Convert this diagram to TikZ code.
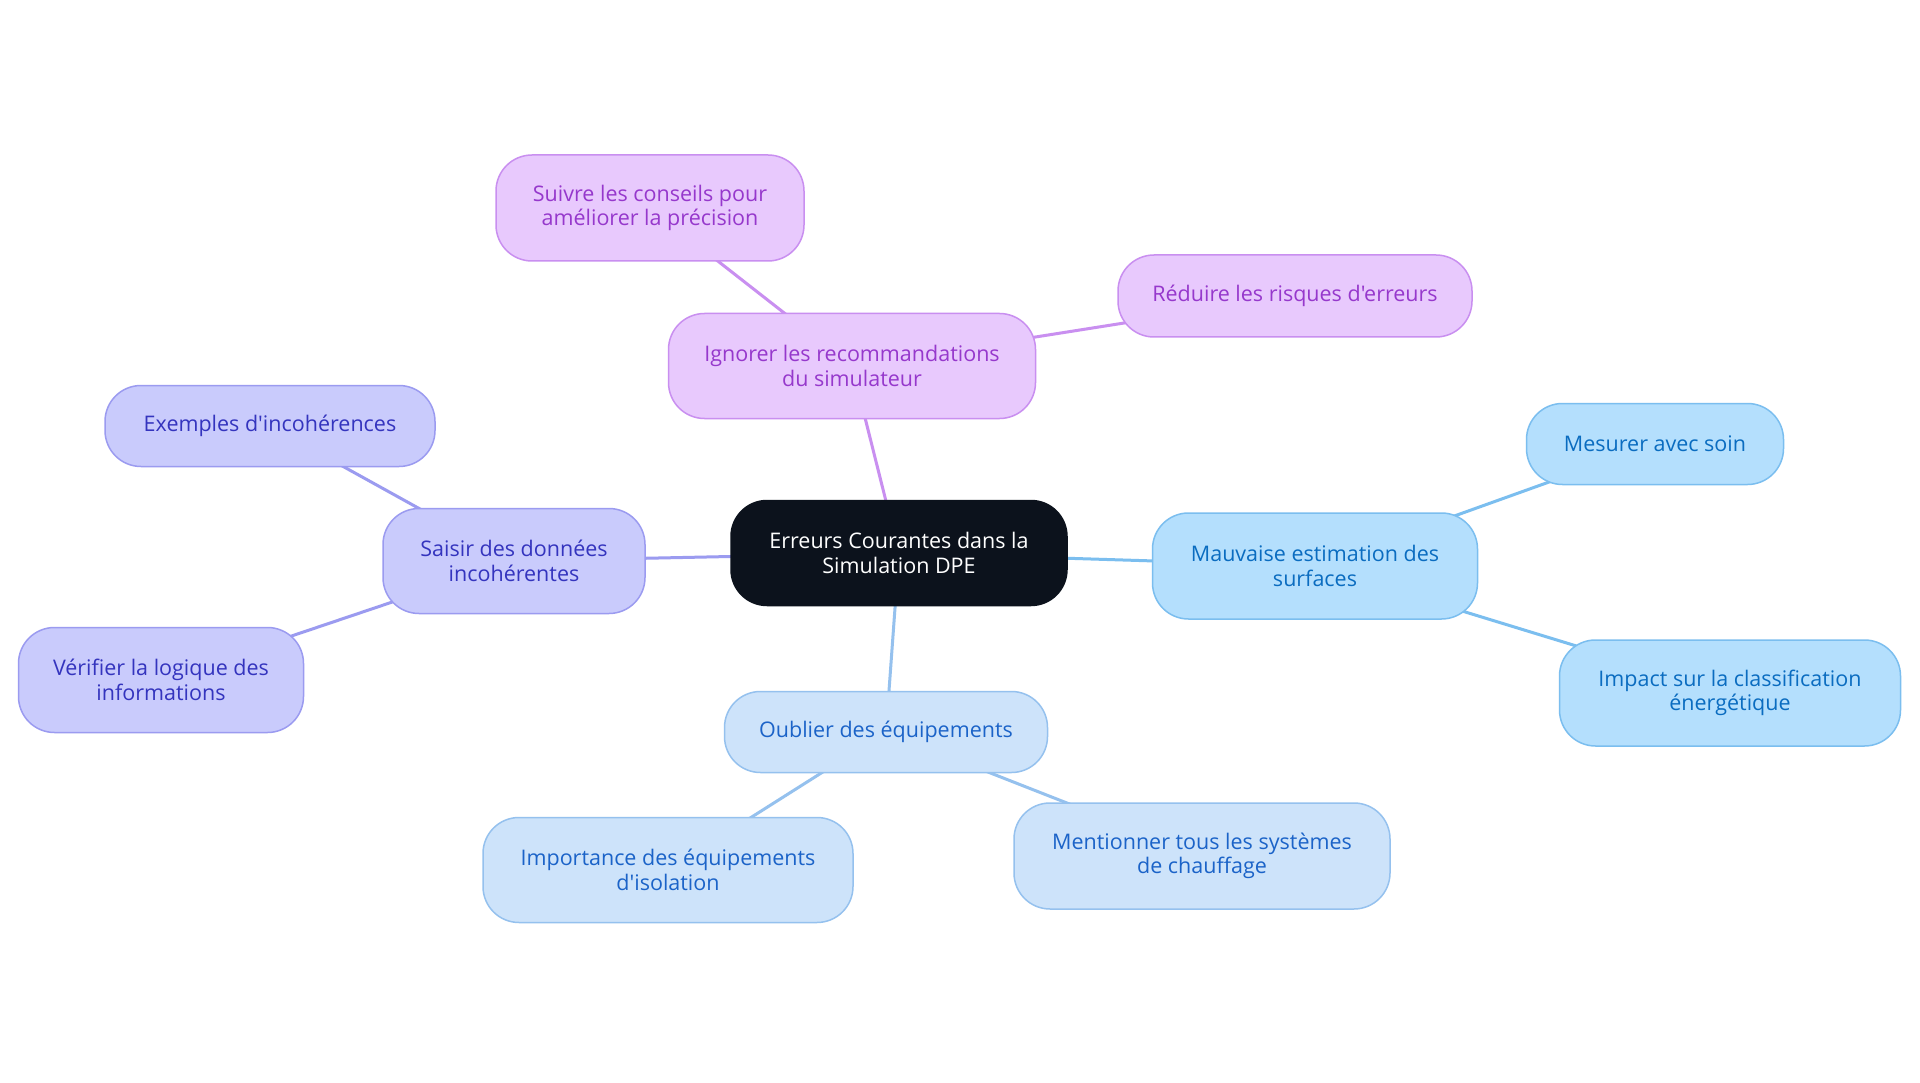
\documentclass[tikz,border=0pt]{standalone}
\usepackage{fontspec}
\setmainfont{Open Sans}[Ligatures=TeXOff]
\usetikzlibrary{backgrounds}
\definecolor{cfill}{HTML}{0C121C}
\definecolor{pfill}{HTML}{E8C9FD}
\definecolor{pdraw}{HTML}{C98FF0}
\definecolor{ptext}{HTML}{9638CC}
\definecolor{bfill}{HTML}{B4DFFD}
\definecolor{bdraw}{HTML}{7BBEEF}
\definecolor{btext}{HTML}{0A6CC0}
\definecolor{lfill}{HTML}{CDE3FA}
\definecolor{ldraw}{HTML}{95C1EE}
\definecolor{ltext}{HTML}{1B63C8}
\definecolor{ifill}{HTML}{C9CBFC}
\definecolor{idraw}{HTML}{9B9BF0}
\definecolor{itext}{HTML}{3434BE}
\tikzset{
  x=1pt,y=-1pt,
  box/.style={rectangle, rounded corners=36pt, align=center, inner sep=0pt, line width=1.5pt,
    font=\fontsize{21.5}{24.5}\selectfont},
  centre/.style={box, fill=cfill, draw=cfill, text=white},
  purp/.style={box, fill=pfill, draw=pdraw, text=ptext},
  blu/.style={box, fill=bfill, draw=bdraw, text=btext},
  lblu/.style={box, fill=lfill, draw=ldraw, text=ltext},
  ind/.style={box, fill=ifill, draw=idraw, text=itext},
  link/.style={line width=3pt},
}
\begin{document}
\begin{tikzpicture}
\useasboundingbox (0,0) rectangle (1920,1083);

\node[centre, minimum width=336pt, minimum height=105pt] (c) at (899,553) {Erreurs Courantes dans la\\Simulation DPE};

\node[purp, minimum width=367pt, minimum height=105pt] (ign) at (852,366) {Ignorer les recommandations\\du simulateur};
\node[purp, minimum width=308pt, minimum height=106pt] (sui) at (650,208) {Suivre les conseils pour\\améliorer la précision};
\node[purp, minimum width=354pt, minimum height=82pt] (red) at (1295,296) {Réduire les risques d'erreurs};

\node[blu, minimum width=325pt, minimum height=106pt] (mau) at (1315,566) {Mauvaise estimation des\\surfaces};
\node[blu, minimum width=257pt, minimum height=81pt] (mes) at (1655,444) {Mesurer avec soin};
\node[blu, minimum width=341pt, minimum height=106pt] (imp) at (1730,693) {Impact sur la classification\\énergétique};

\node[lblu, minimum width=323pt, minimum height=81pt] (oub) at (886,732) {Oublier des équipements};
\node[lblu, minimum width=370pt, minimum height=105pt] (ipt) at (668,870) {Importance des équipements\\d'isolation};
\node[lblu, minimum width=376pt, minimum height=106pt] (men) at (1202,856) {Mentionner tous les systèmes\\de chauffage};

\node[ind, minimum width=262pt, minimum height=105pt] (sai) at (514,561) {Saisir des données\\incohérentes};
\node[ind, minimum width=330pt, minimum height=81pt] (exe) at (270,426) {Exemples d'incohérences};
\node[ind, minimum width=285pt, minimum height=105pt] (ver) at (161,680) {Vérifier la logique des\\informations};

\begin{scope}[on background layer]
\fill[white] (0,0) rectangle (1920,1083);
\draw[link, draw=pdraw] (c.center) -- (ign.center);
\draw[link, draw=pdraw] (ign.center) -- (sui.center);
\draw[link, draw=pdraw] (ign.center) -- (red.center);
\draw[link, draw=bdraw] (c.center) -- (mau.center);
\draw[link, draw=bdraw] (mau.center) -- (mes.center);
\draw[link, draw=bdraw] (mau.center) -- (imp.center);
\draw[link, draw=ldraw] (c.center) -- (oub.center);
\draw[link, draw=ldraw] (oub.center) -- (ipt.center);
\draw[link, draw=ldraw] (oub.center) -- (men.center);
\draw[link, draw=idraw] (c.center) -- (sai.center);
\draw[link, draw=idraw] (sai.center) -- (exe.center);
\draw[link, draw=idraw] (sai.center) -- (ver.center);
\end{scope}
\end{tikzpicture}
\end{document}
